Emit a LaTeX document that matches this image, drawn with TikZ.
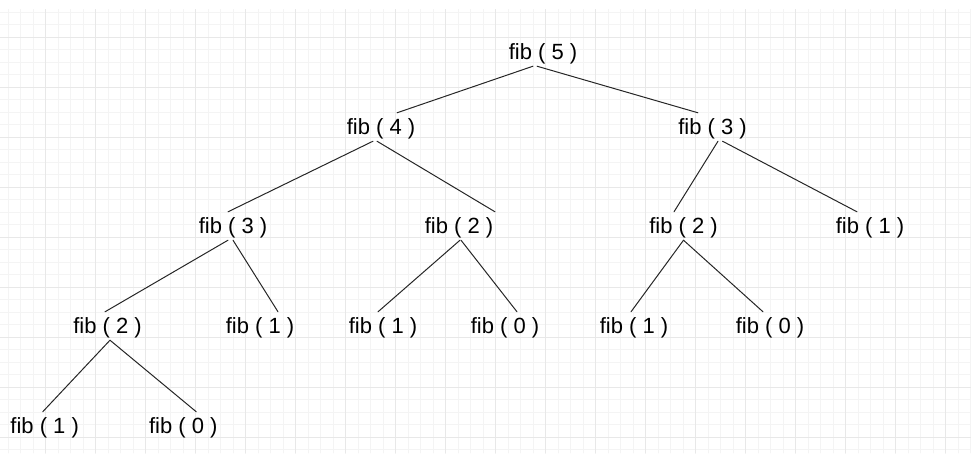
\documentclass[tikz,border=0pt]{standalone}
\usepackage{fontspec}
\setmainfont{Liberation Sans}
\definecolor{gridmin}{HTML}{F4F4F4}
\definecolor{gridmaj}{HTML}{E8E8E8}

\begin{document}
\begin{tikzpicture}[x=1pt,y=-1pt,line cap=round,line join=round,
    call/.style={anchor=base,inner xsep=0pt,inner ysep=3pt,text height=18pt,text depth=4pt,
      font=\fontsize{22}{26}\selectfont},
    edge/.style={line width=1pt,black!85}]
  \useasboundingbox (0,0) rectangle (971,453);
  % background grid
  \begin{scope}
    \clip (0,9) rectangle (971,453);
    \foreach \i in {0,...,77} \draw[gridmin,line width=0.9pt] (8.2+12.5*\i,9) -- ++(0,444);
    \foreach \i in {0,...,35} \draw[gridmin,line width=0.9pt] (0,12.3+12.5*\i) -- ++(971,0);
    \foreach \i in {0,...,18} \draw[gridmaj,line width=1pt] (45.7+50*\i,9) -- ++(0,444);
    \foreach \i in {0,...,8} \draw[gridmaj,line width=1pt] (0,37.3+50*\i) -- ++(971,0);
  \end{scope}
  % calls
  \node[call] (f5) at (543,59) {fib ( 5 )};
  \node[call] (f4) at (381,134) {fib ( 4 )};
  \node[call] (f3r) at (712.5,134) {fib ( 3 )};
  \node[call] (f3l) at (233,233) {fib ( 3 )};
  \node[call] (f2a) at (459,233) {fib ( 2 )};
  \node[call] (f2b) at (683.5,233) {fib ( 2 )};
  \node[call] (f1a) at (870,233) {fib ( 1 )};
  \node[call] (f2c) at (107.5,333) {fib ( 2 )};
  \node[call] (f1b) at (260,333) {fib ( 1 )};
  \node[call] (f1c) at (383,333) {fib ( 1 )};
  \node[call] (f0a) at (505,333) {fib ( 0 )};
  \node[call] (f1d) at (634,333) {fib ( 1 )};
  \node[call] (f0b) at (770,333) {fib ( 0 )};
  \node[call] (f1e) at (44.7,433) {fib ( 1 )};
  \node[call] (f0c) at (183.3,433) {fib ( 0 )};
  % calls made
  \draw[edge] ([xshift=-10pt]f5.south) -- ([xshift=16pt]f4.north);
  \draw[edge] ([xshift=-6pt]f5.south) -- ([xshift=-14.5pt]f3r.north);
  \draw[edge] ([xshift=-8pt]f4.south) -- ([xshift=-5pt]f3l.north);
  \draw[edge] ([xshift=-4pt]f4.south) -- ([xshift=36pt]f2a.north);
  \draw[edge] ([xshift=5.5pt]f3r.south) -- ([xshift=-9.5pt]f2b.north);
  \draw[edge] ([xshift=10pt]f3r.south) -- ([xshift=-13pt]f1a.north);
  \draw[edge] ([xshift=-5pt]f3l.south) -- ([xshift=-2.5pt]f2c.north);
  \draw[edge] (f3l.south) -- ([xshift=18pt]f1b.north);
  \draw[edge] ([xshift=1pt]f2a.south) -- ([xshift=-5pt]f1c.north);
  \draw[edge] ([xshift=2pt]f2a.south) -- ([xshift=12pt]f0a.north);
  \draw[edge] (f2b.south) -- ([xshift=-3pt]f1d.north);
  \draw[edge] (f2b.south) -- ([xshift=-7pt]f0b.north);
  \draw[edge] ([xshift=2.5pt]f2c.south) -- ([xshift=-2pt]f1e.north);
  \draw[edge] ([xshift=2.5pt]f2c.south) -- ([xshift=13pt]f0c.north);
\end{tikzpicture}
\end{document}
